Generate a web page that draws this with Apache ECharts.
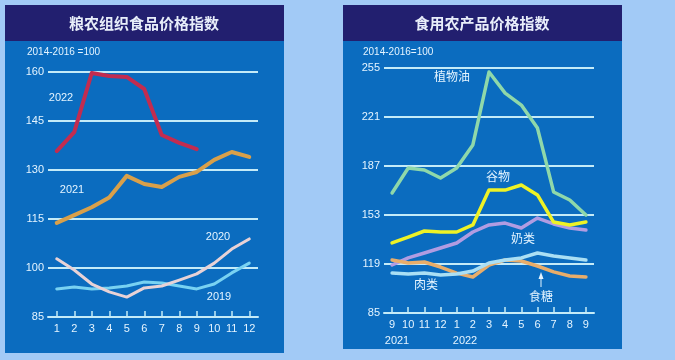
<!DOCTYPE html>
<html><head><meta charset="utf-8">
<script src="https://cdn.jsdelivr.net/npm/echarts@6/dist/echarts.min.js"></script>
<style>html,body{margin:0;padding:0;background:#a2caf6;}#c{width:675px;height:360px;}</style>
</head><body><div id="c"></div>
<script>
// Left chart: cereal price index
const leftMonths = ['1','2','3','4','5','6','7','8','9','10','11','12'];
const s2022 = [135.8, 141.6, 159.7, 158.8, 158.5, 154.8, 140.7, 138.3, 136.4];
const s2021 = [113.8, 116.2, 118.6, 121.6, 128.2, 125.7, 124.8, 127.9, 129.4, 133.1, 135.5, 134.0];
const s2020 = [102.8, 99.4, 95.1, 92.7, 91.1, 93.9, 94.5, 96.3, 98.2, 101.5, 105.8, 108.9];
const s2019 = [93.6, 94.2, 93.6, 93.9, 94.5, 95.7, 95.4, 94.5, 93.6, 95.1, 98.5, 101.5];
const leftYTicks = [85, 100, 115, 130, 145, 160];

// Right chart: edible agricultural products
const rightMonths = ['9','10','11','12','1','2','3','4','5','6','7','8','9'];
const vegOil = [168.3, 185.6, 184.2, 178.7, 185.6, 201.6, 252.2, 237.6, 229.3, 213.3, 169.0, 163.4, 153.0];
const cereals = [133.6, 137.7, 141.9, 141.2, 141.2, 146.1, 170.3, 170.3, 173.8, 166.9, 148.1, 146.1, 148.1];
const dairy = [118.3, 123.2, 126.6, 130.1, 133.6, 141.2, 146.1, 147.4, 144.0, 150.9, 146.8, 144.0, 142.6];
const meat = [112.7, 112.0, 112.7, 111.4, 112.0, 114.1, 119.7, 121.8, 123.2, 126.6, 124.6, 123.2, 121.8];
const sugar = [121.8, 119.7, 120.4, 116.9, 112.7, 110.0, 118.3, 121.8, 121.1, 117.6, 113.5, 110.7, 110.0];
const rightYTicks = [85, 119, 153, 187, 221, 255];

const chart = echarts.init(document.getElementById('c'), null, {renderer: 'canvas'});
const txt = '#e4f4ff';
const gridLine = '#c4ebf8';
const font = '"Liberation Sans", "Noto Sans CJK SC", sans-serif';
const cjk = '"Noto Sans CJK SC", sans-serif';

function xAxis(idx, data) {
  return {
    type: 'category', gridIndex: idx, data: data, boundaryGap: true,
    axisLine: {show: true, lineStyle: {color: gridLine, width: 2}},
    axisTick: {show: true, inside: true, alignWithLabel: true, length: 6, lineStyle: {color: gridLine, width: 1.5}},
    axisLabel: {color: txt, fontSize: 11, fontFamily: font, margin: 6}
  };
}
function yAxis(idx, ticks) {
  return {
    type: 'value', gridIndex: idx, min: ticks[0], max: ticks[ticks.length - 1],
    interval: ticks[1] - ticks[0],
    axisLine: {show: false}, axisTick: {show: false},
    axisLabel: {color: txt, fontSize: 11, fontFamily: font, margin: 4},
    splitLine: {show: true, lineStyle: {color: gridLine, width: 2}}
  };
}
function line(name, data, color, w, xi) {
  return {
    name: name, type: 'line', data: data, xAxisIndex: xi, yAxisIndex: xi,
    symbol: 'none', smooth: false, animation: false,
    lineStyle: {color: color, width: w, cap: 'round', join: 'round'}
  };
}
function t(text, x, y, size, opts) {
  opts = opts || {};
  return {type: 'text', x: x, y: y, z: 100, silent: true,
    style: Object.assign({text: text, fill: txt, fontSize: size, fontFamily: opts.family || font,
      align: opts.align || 'center', verticalAlign: 'middle',
      textAlign: opts.align || 'center', textVerticalAlign: 'middle'}, opts.extra || {})};
}

chart.setOption({
  animation: false,
  grid: [
    {left: 48, top: 72, width: 210, height: 245},
    {left: 384, top: 68, width: 210, height: 245}
  ],
  xAxis: [xAxis(0, leftMonths), xAxis(1, rightMonths)],
  yAxis: [yAxis(0, leftYTicks), yAxis(1, rightYTicks)],
  series: [
    line('2019', s2019, '#78d2f2', 3, 0),
    line('2020', s2020, '#e8d2d6', 3, 0),
    line('2021', s2021, '#d9a04a', 4, 0),
    line('2022', s2022, '#c22c50', 4, 0),
    line('植物油', vegOil, '#8fd8aa', 3.5, 1),
    line('奶类', dairy, '#b19ce2', 3.5, 1),
    line('食糖', sugar, '#e8ad6a', 3.5, 1),
    line('肉类', meat, '#aadff4', 3.5, 1),
    line('谷物', cereals, '#eef226', 3.5, 1)
  ],
  graphic: [
    {type: 'rect', shape: {x: 5, y: 5, width: 279, height: 348}, style: {fill: '#0b6cbf'}, z: -10, silent: true},
    {type: 'rect', shape: {x: 5, y: 5, width: 279, height: 36}, style: {fill: '#221f6f'}, z: -9, silent: true},
    {type: 'rect', shape: {x: 343, y: 5, width: 279, height: 344}, style: {fill: '#0b6cbf'}, z: -10, silent: true},
    {type: 'rect', shape: {x: 343, y: 5, width: 279, height: 36}, style: {fill: '#221f6f'}, z: -9, silent: true},
    t('粮农组织食品价格指数', 144, 23, 15, {family: cjk, extra: {fill: '#e8eefa', fontWeight: 'bold'}}),
    t('食用农产品价格指数', 482, 23, 15, {family: cjk, extra: {fill: '#e8eefa', fontWeight: 'bold'}}),
    t('2014-2016 =100', 27, 52, 10, {align: 'left'}),
    t('2014-2016=100', 363, 52, 10, {align: 'left'}),
    t('2022', 61, 98, 11),
    t('2021', 72, 190, 11),
    t('2020', 218, 237, 11),
    t('2019', 219, 297, 11),
    t('2021', 397, 341, 11),
    t('2022', 465, 341, 11),
    t('植物油', 452, 76, 12, {family: cjk}),
    t('谷物', 498, 176, 12, {family: cjk}),
    t('奶类', 523, 238, 12, {family: cjk}),
    t('肉类', 426, 284, 12, {family: cjk}),
    t('食糖', 541, 296, 12, {family: cjk}),
    {type: 'line', z: 100, silent: true, shape: {x1: 541, y1: 275, x2: 541, y2: 287}, style: {stroke: txt, lineWidth: 1}},
    {type: 'polygon', z: 100, silent: true, shape: {points: [[541, 272], [538.5, 279], [543.5, 279]]}, style: {fill: txt}}
  ]
});
</script></body></html>
